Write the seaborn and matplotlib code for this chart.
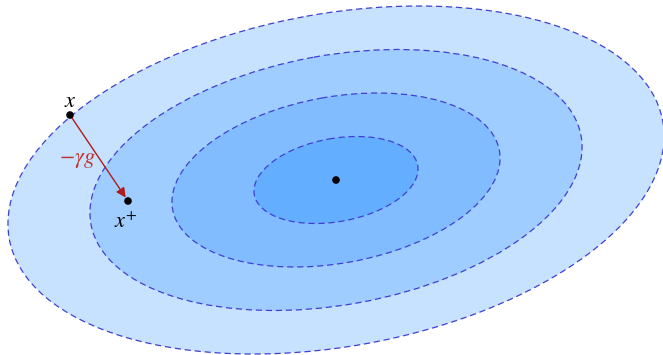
import numpy as np
import pandas as pd
import matplotlib
matplotlib.use('Agg')
import matplotlib.pyplot as plt
from matplotlib.patches import Ellipse
import seaborn as sns

# level sets of a quadratic, drawn in pixel coordinates of the picture
levels = [4, 3, 2, 1]                      # outer -> inner scale
fill_colors = ['#c7e2ff', '#a0cdff', '#80bcff', '#63aeff']
centre = (336, 180)
semi_major = 83.0
semi_minor = 41.6
tilt_deg = -10.2

# iterate x, next iterate x+, minimiser
point_x = [70, 128, 336]
point_y = [115, 201, 180]
point_name = ['x', 'x+', 'min']

sns.set_theme(style='white')
plt.rcParams['mathtext.fontset'] = 'stix'

fig = plt.figure(figsize=(6.63, 3.55), dpi=100)
ax = fig.add_axes([0, 0, 1, 1])

for lev, col in zip(levels, fill_colors):
    ax.add_patch(Ellipse(centre, 2 * semi_major * lev, 2 * semi_minor * lev,
                         angle=tilt_deg, facecolor=col, edgecolor='#4040d2',
                         lw=0.9, linestyle=(0, (5, 3))))

df = pd.DataFrame({'x': point_x, 'y': point_y, 'name': point_name})
sns.scatterplot(data=df, x='x', y='y', ax=ax, color='black', s=30,
                edgecolor='none', zorder=5, legend=False)

# gradient step arrow
ax.annotate('', xy=(point_x[1], point_y[1]), xytext=(point_x[0], point_y[0]),
            arrowprops=dict(arrowstyle='-|>', color='#b01c1c', lw=1.0,
                            shrinkA=0, shrinkB=3, mutation_scale=14),
            zorder=4)

ax.text(point_x[0], point_y[0] - 8, r'$x$', fontsize=16, ha='center',
        va='baseline', color='black')
ax.text(point_x[1] - 2, point_y[1] + 27, r'$x^{+}$', fontsize=16, ha='center',
        va='baseline', color='black')
ax.text(77, 163, r'$-\gamma g$', fontsize=16, ha='center', va='baseline',
        color='#c43030')

ax.set_xlim(0, 663)
ax.set_ylim(355, 0)
ax.set_axis_off()

fig.savefig('out.png', dpi=100)
